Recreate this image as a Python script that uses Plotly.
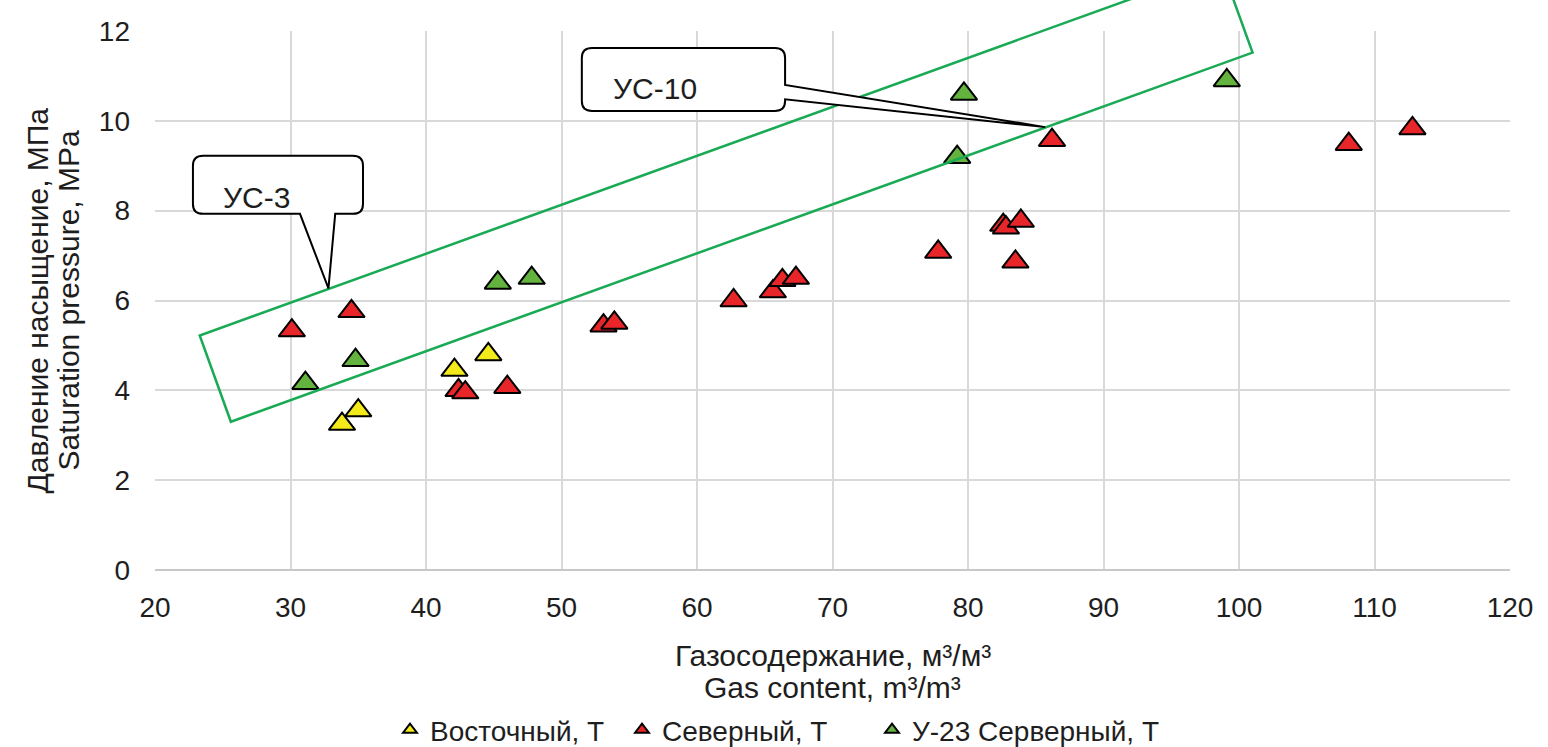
import plotly.graph_objects as go

# data (gas content, m3/m3 ; saturation pressure, MPa)
vost_x = [33.8, 35.0, 42.1, 44.6]
vost_y = [3.25, 3.55, 4.45, 4.8]

sev_x = [30.1, 34.5, 42.4, 42.9, 46.0, 53.1, 53.9, 62.7, 65.6, 66.3, 67.3,
         77.8, 82.6, 82.8, 83.9, 83.5, 86.2, 108.1, 112.8]
sev_y = [5.33, 5.76, 4.0, 3.95, 4.07, 5.44, 5.5, 6.0, 6.2, 6.45, 6.5,
         7.08, 7.68, 7.62, 7.77, 6.86, 9.57, 9.48, 9.83]

u23_x = [31.1, 34.8, 45.3, 47.8, 79.2, 79.7, 99.1]
u23_y = [4.16, 4.67, 6.39, 6.5, 9.19, 10.6, 10.9]

series_names = ["Восточный, Т", "Северный, Т", "У-23 Серверный, Т"]
series_colors = ["#F2EA1A", "#E8262A", "#63B33E"]

x_ticks = list(range(20, 121, 10))
y_ticks = list(range(0, 13, 2))

# trend band (rotated rectangle) corners
band_x = [25.6, 101.0, 98.7, 23.3]
band_y = [3.3, 11.52, 13.44, 5.22]

FONT = "Liberation Sans, Arial, sans-serif"
TXT = "#1E1E1E"

plot_w = 1355.0
plot_h = 570.0
y_top = 539.0 / plot_h

legend_ids = ["legend", "legend2", "legend3"]
legend_left_px = [390, 622, 872]

fig = go.Figure()
for xs, ys, name, col, lg in zip([vost_x, sev_x, u23_x], [vost_y, sev_y, u23_y],
                                 series_names, series_colors, legend_ids):
    fig.add_trace(go.Scatter(
        x=xs, y=ys, mode="markers", name=name, legend=lg,
        marker=dict(symbol="triangle-up", size=23, color=col,
                    line=dict(color="black", width=2)),
    ))

# empty trace on a taller hidden subplot so the band can run above the axes
fig.add_trace(go.Scatter(x=[None], y=[None], xaxis="x2", yaxis="y2",
                         showlegend=False, hoverinfo="skip"))


def rounded_callout(x0, x1, y0, y1, rx, ry, wedge):
    side, pts = wedge
    p = f"M{x0 + rx},{y1} L{x1 - rx},{y1} Q{x1},{y1} {x1},{y1 - ry} "
    if side == "right":
        for px, py in pts:
            p += f"L{px},{py} "
    p += f"L{x1},{y0 + ry} Q{x1},{y0} {x1 - rx},{y0} "
    if side == "bottom":
        for px, py in pts:
            p += f"L{px},{py} "
    p += f"L{x0 + rx},{y0} Q{x0},{y0} {x0},{y0 + ry} L{x0},{y1 - ry} Q{x0},{y1} {x0 + rx},{y1} Z"
    return p


band_path = "M" + " L".join(f"{a},{b}" for a, b in zip(band_x, band_y)) + " Z"

shapes = [
    dict(type="path", path=band_path, xref="x2", yref="y2",
         line=dict(color="#1AAA55", width=2.5), layer="above"),
    dict(type="path", xref="x", yref="y", layer="above",
         path=rounded_callout(22.8, 35.35, 7.93, 9.22, 0.75, 0.22,
                              ("bottom", [(33.3, 7.93), (32.8, 6.27), (30.7, 7.93)])),
         fillcolor="white", line=dict(color="black", width=2)),
    dict(type="path", xref="x", yref="y", layer="above",
         path=rounded_callout(51.5, 66.5, 10.22, 11.62, 0.75, 0.22,
                              ("right", [(66.5, 10.8), (85.7, 9.86), (66.5, 10.48)])),
         fillcolor="white", line=dict(color="black", width=2)),
]

annotations = [
    dict(x=27.5, y=8.3, xref="x", yref="y", text="УС-3", showarrow=False,
         font=dict(family=FONT, size=30, color=TXT)),
    dict(x=56.9, y=10.72, xref="x", yref="y", text="УС-10", showarrow=False,
         font=dict(family=FONT, size=30, color=TXT)),
    # axis titles, one annotation per line (tight line spacing as in the original)
    dict(x=(37 - 155) / plot_w, y=y_top / 2, xref="paper", yref="paper",
         xanchor="center", yanchor="middle",
         text="Давление насыщение, МПа", textangle=-90, showarrow=False,
         font=dict(family=FONT, size=30, color=TXT)),
    dict(x=(68 - 155) / plot_w, y=y_top / 2, xref="paper", yref="paper",
         xanchor="center", yanchor="middle",
         text="Saturation pressure, MPa", textangle=-90, showarrow=False,
         font=dict(family=FONT, size=30, color=TXT)),
    dict(x=0.5, y=-85 / plot_h, xref="paper", yref="paper",
         xanchor="center", yanchor="middle",
         text="Газосодержание, м³/м³", showarrow=False,
         font=dict(family=FONT, size=30, color=TXT)),
    dict(x=0.5, y=-117 / plot_h, xref="paper", yref="paper",
         xanchor="center", yanchor="middle",
         text="Gas content, m³/m³", showarrow=False,
         font=dict(family=FONT, size=30, color=TXT)),
]

legend_style = dict(orientation="h", xanchor="left", y=-160 / plot_h,
                    yanchor="middle", itemsizing="constant",
                    bgcolor="rgba(0,0,0,0)",
                    font=dict(family=FONT, size=28, color=TXT))
legends = {lg: dict(legend_style, x=(px - 155) / plot_w)
           for lg, px in zip(legend_ids, legend_left_px)}

fig.update_layout(
    width=1548, height=747,
    margin=dict(l=155, r=38, t=0, b=177, autoexpand=False),
    paper_bgcolor="white", plot_bgcolor="rgba(0,0,0,0)",
    font=dict(family=FONT, size=28, color=TXT),
    shapes=shapes, annotations=annotations,
    showlegend=True,
    **legends,
    xaxis=dict(range=[20, 120], tickvals=x_ticks, showgrid=True,
               gridcolor="#D9D9D9", gridwidth=2, zeroline=False,
               showline=False, ticks="", ticklabelstandoff=18,
               tickfont=dict(size=28, color=TXT)),
    yaxis=dict(range=[0, 12], tickvals=y_ticks, domain=[0, y_top],
               showgrid=True, gridcolor="#D9D9D9", gridwidth=2,
               zeroline=True, zerolinecolor="#C8C8C8", zerolinewidth=2,
               showline=False, ticks="", ticklabelstandoff=24,
               tickfont=dict(size=28, color=TXT)),
    xaxis2=dict(range=[20, 120], domain=[0, 1], anchor="y2",
                visible=False, showgrid=False),
    yaxis2=dict(range=[0, 12 / y_top], domain=[0, 1], anchor="x2",
                visible=False, showgrid=False),
)

# the page body has a default 8px margin; drop it so the figure fills the window
fig.write_html("out.html", config={"displayModeBar": False},
               post_script="document.body.style.margin='0px';")
